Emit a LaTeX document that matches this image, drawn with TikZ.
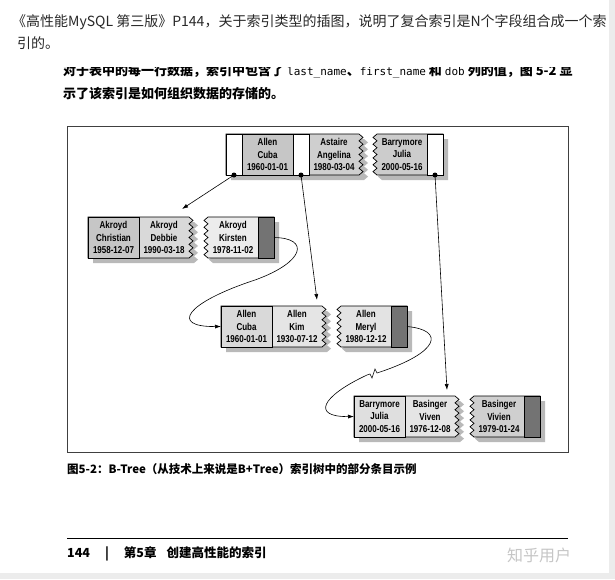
\documentclass[tikz,border=0pt]{standalone}
\usepackage{fontspec}
\setmainfont{Noto Sans CJK SC}
\setmonofont{DejaVu Sans Mono}
\newfontfamily\cellfont[FakeStretch=0.8]{Liberation Sans}
\usetikzlibrary{arrows.meta, positioning, backgrounds}
\definecolor{pagegray}{RGB}{236,236,236}
\definecolor{inkgray}{RGB}{40,40,40}
\tikzset{
  % Index cell (parameterized by fill)
  cell/.style={
    rectangle, draw=black, line width=0.7pt, fill=#1, outer sep=0pt,
    minimum height=41pt, inner sep=0pt, align=center,
    font={\cellfont\bfseries\fontsize{10}{12.5}\selectfont}
  },
  keycell/.style={cell=#1, minimum width=51pt},
  ptrcell/.style={cell=white, minimum width=16pt},
  endcell/.style={cell=black!55, minimum width=16pt},
  % Cut cell: text only, outline drawn as leaf
  partcell/.style={
    rectangle, outer sep=0pt, minimum width=50pt, minimum height=41pt,
    inner sep=0pt, align=center, font={\cellfont\bfseries\fontsize{10}{12.5}\selectfont}
  },
  leaf/.style={
    draw=black, line width=0.7pt, fill=#1,
    preaction={fill=gray!55, transform canvas={xshift=5pt, yshift=-5pt}}
  },
  ptrdot/.style={circle, fill=black, inner sep=0pt, minimum size=5pt},
  ptrarrow/.style={-{Latex[length=6pt, width=4pt]}, line width=0.6pt},
  pagetext/.style={anchor=base west, inner sep=0pt, text=inkgray}
}

\begin{document}
\begin{tikzpicture}[x=1pt, y=-1pt, node distance=0pt]
  \useasboundingbox (0,0) rectangle (615,579);

  % Page text
  \node[pagetext, font=\fontsize{14}{20}\selectfont] (q1) at (12,26)
    {《高性能MySQL 第三版》P144，关于索引类型的插图，说明了复合索引是N个字段组合成一个索};
  \node[pagetext, font=\fontsize{14}{20}\selectfont] (q2) at (17,48) {引的。};
  \begin{scope}
    \clip (0,67) rectangle (615,120);
    \node[pagetext, text=black, font=\bfseries\fontsize{13}{20}\selectfont] (b1) at (63,75)
      {对于表中的每一行数据，索引中包含了 {\mdseries\ttfamily\fontsize{11}{20}\selectfont last\_name}、{\mdseries\ttfamily\fontsize{11}{20}\selectfont first\_name} 和 {\mdseries\ttfamily\fontsize{11}{20}\selectfont dob} 列的值，图 5-2 显};
  \end{scope}
  \node[pagetext, text=black, font=\bfseries\fontsize{13}{20}\selectfont] (b2) at (63,98)
    {示了该索引是如何组织数据的存储的。};

  % Figure frame
  \draw[black!75, line width=0.8pt] (67,126) rectangle (568,452);

  % Root page
  \node[ptrcell, anchor=north west] (p1) at (226,134) {};
  \node[keycell=gray!45, right=of p1] (allen) {Allen\\Cuba\\1960-01-01};
  \node[ptrcell, right=of allen] (p2) {};
  \node[partcell, right=of p2] (astaire) {Astaire\\Angelina\\1980-03-04};
  \node[partcell, anchor=north west] (barry) at (377,134) {Barrymore\\Julia\\2000-05-16};
  \node[ptrcell, right=of barry] (p3) {};

  % Leaf pages
  \node[keycell=gray!45, anchor=north west] (chr) at (88,217) {Akroyd\\Christian\\1958-12-07};
  \node[partcell, right=of chr] (deb) {Akroyd\\Debbie\\1990-03-18};
  \node[partcell, anchor=north west] (kir) at (208,217) {Akroyd\\Kirsten\\1978-11-02};
  \node[endcell, right=of kir] (kd) {};

  \node[keycell=gray!30, anchor=north west] (cuba) at (221,306) {Allen\\Cuba\\1960-01-01};
  \node[partcell, right=of cuba] (kim) {Allen\\Kim\\1930-07-12};
  \node[partcell, anchor=north west] (mer) at (341,306) {Allen\\Meryl\\1980-12-12};
  \node[endcell, right=of mer] (md) {};

  \node[keycell=gray!25, anchor=north west] (bj) at (354,396) {Barrymore\\Julia\\2000-05-16};
  \node[partcell, right=of bj] (viv) {Basinger\\Viven\\1976-12-08};
  \node[partcell, anchor=north west] (viv2) at (474,396) {Basinger\\Vivien\\1979-01-24};
  \node[endcell, right=of viv2] (vd) {};

  % Page outlines with torn edges
  \begin{scope}[on background layer]
    \fill[pagegray] (0,0) rectangle (615,579);
    \fill[white] (0,0) rectangle (609,573);
    \path[leaf=gray!38] (p1.north west) -- (astaire.north east)
      \foreach \i in {1,...,6}{ -- ++(4,3.42) -- ++(-4,3.42)} -- (p1.south west) -- cycle;
    \path[leaf=gray!40] (p3.north east) -- (barry.north west)
      \foreach \i in {1,...,6}{ -- ++(-4,3.42) -- ++(4,3.42)} -- (p3.south east) -- cycle;
    \path[leaf=gray!30] (chr.north west) -- (deb.north east)
      \foreach \i in {1,...,6}{ -- ++(4,3.42) -- ++(-4,3.42)} -- (chr.south west) -- cycle;
    \path[leaf=gray!15] (kd.north east) -- (kir.north west)
      \foreach \i in {1,...,6}{ -- ++(-4,3.42) -- ++(4,3.42)} -- (kd.south east) -- cycle;
    \path[leaf=gray!20] (cuba.north west) -- (kim.north east)
      \foreach \i in {1,...,6}{ -- ++(4,3.42) -- ++(-4,3.42)} -- (cuba.south west) -- cycle;
    \path[leaf=gray!22] (md.north east) -- (mer.north west)
      \foreach \i in {1,...,6}{ -- ++(-4,3.42) -- ++(4,3.42)} -- (md.south east) -- cycle;
    \path[leaf=gray!20] (bj.north west) -- (viv.north east)
      \foreach \i in {1,...,6}{ -- ++(4,3.42) -- ++(-4,3.42)} -- (bj.south west) -- cycle;
    \path[leaf=gray!38] (vd.north east) -- (viv2.north west)
      \foreach \i in {1,...,6}{ -- ++(-4,3.42) -- ++(4,3.42)} -- (vd.south east) -- cycle;
  \end{scope}

  % Pointers
  \coordinate (t1) at ([shift={(18,-8)}]deb.north);
  \coordinate (t2) at ([shift={(20,-6)}]kim.north);
  \coordinate (t3) at ([shift={(17,-6)}]viv.north);
  \draw[ptrarrow] (p1.south) -- (t1);
  \draw[ptrarrow] (p2.south) -- (t2);
  \draw[ptrarrow] (p3.south) -- (t3);
  \node[ptrdot] (d1) at (p1.south) {};
  \node[ptrdot] (d2) at (p2.south) {};
  \node[ptrdot] (d3) at (p3.south) {};

  % Sibling links
  \draw[ptrarrow] (kd.east) .. controls (310,238) and (305,262) .. (255,280)
    .. controls (185,303) and (170,327) .. (cuba.west);
  \draw[ptrarrow] (md.east) .. controls (445,330) and (440,352) .. (380,372)
    -- ++(-3,1) -- ++(-2,-4) -- ++(-3,9) -- ++(-2,-4) -- ++(-3,1)
    .. controls (320,397) and (312,417) .. (bj.west);

  % Caption and footer
  \node[pagetext, text=black, font=\bfseries\fontsize{11.5}{14}\selectfont] (cap) at (67,473)
    {图5-2：B-Tree（从技术上来说是B+Tree）索引树中的部分条目示例};
  \draw[black, line width=0.8pt] (67,538) -- (568,538);
  \node[pagetext, text=black, font=\bfseries\fontsize{12.5}{14}\selectfont] (foot) at (67,557)
    {144\hspace{15pt}|\hspace{15pt}第5章\hspace{10pt}创建高性能的索引};
  \node[pagetext, text=gray!45, font=\fontsize{16}{18}\selectfont] (mark) at (507,561) {知乎用户};
\end{tikzpicture}
\end{document}
